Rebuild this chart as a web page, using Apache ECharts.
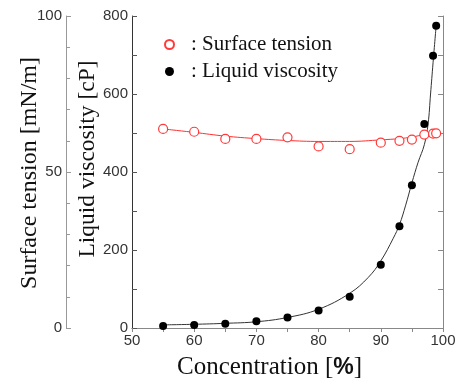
<!DOCTYPE html>
<html>
<head>
<meta charset="utf-8">
<script src="https://cdn.jsdelivr.net/npm/echarts@6/dist/echarts.min.js"></script>
<style>html,body{margin:0;padding:0;background:#fff;}#c{width:459px;height:381px;}</style>
</head>
<body>
<div id="c"></div>
<script>
// Measured points
const concentration = [55, 60, 65, 70, 75, 80, 85, 90, 93, 95, 97, 98.4, 98.9];
const surfaceTension = [63.8, 62.9, 60.6, 60.6, 61.1, 58.2, 57.3, 59.4, 60.0, 60.4, 62.0, 62.3, 62.4];
const viscosity = [5, 8, 11, 17, 27, 45, 80, 162, 261, 366, 523, 698, 775];

// Fitted curves
const stFitX = [55, 60, 65, 70, 75, 80, 85, 90, 93, 95, 97, 99];
const stFitY = [63.8, 62.7, 61.5, 60.7, 60.1, 59.8, 59.8, 60.3, 60.7, 61.2, 62.0, 62.6];
const viscFitX = [55, 60, 65, 70, 75, 80, 85, 88, 90, 92, 93, 94, 95, 96, 97, 97.6, 98, 98.4, 98.9];
const viscFitY = [8, 9.5, 12, 16, 27, 48, 89, 130, 172, 230, 265, 315, 372, 425, 470, 523, 600, 680, 775];

// Tick labels
const xTicks = [50, 60, 70, 80, 90, 100];
const viscTicks = [0, 200, 400, 600, 800];
const stTicks = [0, 50, 100];

// Titles
const xTitle = 'Concentration [';
const viscTitle = 'Liquid viscosity [cP]';
const stTitle = 'Surface tension [mN/m]';

const zip = (a, b) => a.map((v, i) => [v, b[i]]);

const chart = echarts.init(document.getElementById('c'), null, {renderer: 'canvas'});
const labelStyle = {fontFamily: 'Liberation Sans', fontSize: 15, color: '#333'};
const serif = 'Liberation Serif';

chart.setOption({
  animation: false,
  backgroundColor: '#fff',
  grid: {left: 132, top: 16, right: 16, bottom: 53, outerBoundsMode: 'none', containLabel: false},
  legend: {
    data: ['Surface tension', 'Liquid viscosity'],
    orient: 'vertical',
    left: 164, top: 32, padding: 0,
    itemWidth: 9, itemHeight: 9, itemGap: 2,
    icon: 'circle',
    formatter: n => ': ' + n,
    textStyle: {fontFamily: serif, fontStyle: 'normal', fontSize: 21, color: '#111', lineHeight: 25, padding: [0, 0, 0, 12]}
  },
  graphic: [{
    type: 'text', x: 30, y: 173, rotation: Math.PI / 2,
    style: {text: stTitle, fontFamily: serif, fontSize: 24, fill: '#111', align: 'center', verticalAlign: 'middle'}
  }, {
    type: 'text', x: 88, y: 159, rotation: Math.PI / 2,
    style: {text: viscTitle, fontFamily: serif, fontSize: 23.5, fill: '#111', align: 'center', verticalAlign: 'middle'}
  }],
  xAxis: [{
    type: 'value', position: 'bottom', min: 50, max: 100, interval: 10,
    axisLine: {lineStyle: {color: '#888', width: 1}},
    axisTick: {show: false},
    splitLine: {show: false},
    axisLabel: Object.assign({margin: 5, formatter: v => xTicks.includes(v) ? String(v) : ''}, labelStyle),
    name: '{a|' + xTitle + '}{b|%}{a|]}',
    nameLocation: 'middle', nameGap: 27,
    nameTextStyle: {padding: [0, 36, 0, 0], rich: {
      a: {fontFamily: serif, fontSize: 25, color: '#111'},
      b: {fontFamily: 'Liberation Sans', fontWeight: 'bold', fontSize: 23, color: '#111'}
    }}
  }, {
    type: 'value', position: 'top', min: 50, max: 100, interval: 5,
    axisLine: {lineStyle: {color: '#888', width: 1}},
    axisTick: {inside: true, length: 4, lineStyle: {color: '#888'}},
    axisLabel: {show: false}, splitLine: {show: false}
  }],
  yAxis: [{
    type: 'value', position: 'left', min: 0, max: 800, interval: 200,
    axisLine: {show: true, lineStyle: {color: '#333', width: 1}},
    axisTick: {show: true, inside: true, length: 5, lineStyle: {color: '#555'}},
    minorTick: {show: true, splitNumber: 2, length: 5, lineStyle: {color: '#555'}},
    splitLine: {show: false},
    axisLabel: Object.assign({margin: 4, formatter: v => viscTicks.includes(v) ? String(v) : ''}, labelStyle)
  }, {
    type: 'value', position: 'left', offset: 66, min: 0, max: 100, interval: 50,
    axisLine: {show: true, lineStyle: {color: '#999', width: 1}},
    axisTick: {show: true, inside: true, length: 5, lineStyle: {color: '#999'}},
    minorTick: {show: true, splitNumber: 5, length: 4, lineStyle: {color: '#999'}},
    splitLine: {show: false},
    axisLabel: Object.assign({margin: 4, formatter: v => stTicks.includes(v) ? String(v) : ''}, labelStyle)
  }, {
    type: 'value', position: 'right', min: 0, max: 800, interval: 100,
    axisLine: {show: true, lineStyle: {color: '#888', width: 1}},
    axisTick: {show: true, inside: true, length: 5, lineStyle: {color: '#888'}},
    axisLabel: {show: false}, splitLine: {show: false}
  }],
  series: [{
    name: 'Surface tension fit', type: 'line', xAxisIndex: 0, yAxisIndex: 1,
    data: zip(stFitX, stFitY), smooth: 0.4, showSymbol: false,
    lineStyle: {color: '#ff3030', width: 1}, z: 2
  }, {
    name: 'Liquid viscosity fit', type: 'line', xAxisIndex: 0, yAxisIndex: 0,
    data: zip(viscFitX, viscFitY), smooth: 0.4, showSymbol: false,
    lineStyle: {color: '#333', width: 1}, z: 2
  }, {
    name: 'Surface tension', type: 'scatter', xAxisIndex: 0, yAxisIndex: 1,
    data: zip(concentration, surfaceTension), symbol: 'circle', symbolSize: 9,
    itemStyle: {color: '#fff', borderColor: '#ff3a3a', borderWidth: 1.2, opacity: 1}, z: 3
  }, {
    name: 'Liquid viscosity', type: 'scatter', xAxisIndex: 0, yAxisIndex: 0,
    data: zip(concentration, viscosity), symbol: 'circle', symbolSize: 8,
    itemStyle: {color: '#000', opacity: 1}, z: 4
  }]
});
</script>
</body>
</html>
